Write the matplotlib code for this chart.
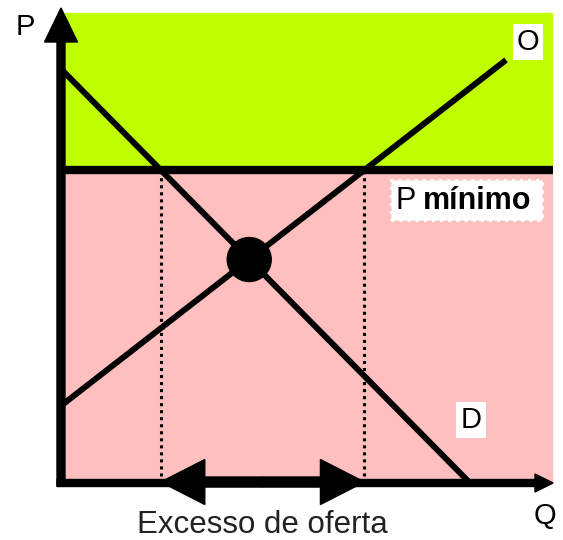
import numpy as np
import matplotlib
matplotlib.use("Agg")
from matplotlib import pyplot as plt
from matplotlib.patches import Rectangle, Circle, FancyArrow

plt.rcParams["font.family"] = ["Liberation Sans", "DejaVu Sans"]

# schematic units (Q along x, P along y)
demand_q = [0, 408]
demand_p = [413, 0]
supply_q = [0, 444]
supply_p = [78, 423]
p_min = 313

# quantities where the floor price meets each curve
q_dem_floor = np.interp(p_min, demand_p[::-1], demand_q[::-1])
q_sup_floor = np.interp(p_min, supply_p, supply_q)

# equilibrium
a_d = np.polyfit(demand_q, demand_p, 1)
a_s = np.polyfit(supply_q, supply_p, 1)
q_eq = (a_s[1] - a_d[1]) / (a_d[0] - a_s[0])
p_eq = np.polyval(a_d, q_eq)

fig = plt.figure(figsize=(5.63, 5.40), dpi=100)
ax = fig.add_axes([0, 0, 1, 1])
ax.set_xlim(-62, 501)
ax.set_ylim(-57, 483)
ax.axis("off")

green = "#bfff00"
pink = "#ffbfbf"

ax.add_patch(Rectangle((3, p_min), 487, 470 - p_min, color=green, zorder=0))
ax.add_patch(Rectangle((3, 0), 487, p_min, color=pink, zorder=0))

# floor price line
ax.plot([0, 491], [p_min, p_min], color="black", lw=6, solid_capstyle="butt", zorder=3)

# dotted guides
for q in [q_dem_floor, q_sup_floor]:
    ax.plot([q, q], [0, p_min], color="black", lw=2.2, ls=(0, (1, 1.3)), zorder=2)

# curves
ax.plot(demand_q, demand_p, color="black", lw=4.3, solid_capstyle="butt", zorder=3)
ax.plot(supply_q, supply_p, color="black", lw=4.3, solid_capstyle="butt", zorder=3)

ax.add_patch(Circle((q_eq, p_eq), 22, color="black", zorder=4))

# axes arrows
ax.add_patch(FancyArrow(-1, -3, 0, 478, width=8, head_width=33, head_length=34,
                        length_includes_head=True, color="black", zorder=5))
ax.add_patch(FancyArrow(-5, 0, 496, 0, width=7, head_width=18, head_length=18,
                        length_includes_head=True, color="black", zorder=5))

# double arrow for the surplus
mid = (q_dem_floor + q_sup_floor) / 2
for end in [q_dem_floor, q_sup_floor]:
    ax.add_patch(FancyArrow(mid, 1, end - mid, 0, width=10, head_width=45, head_length=44,
                            length_includes_head=True, color="black", zorder=6))

ax.text(-37, 456, "P", fontsize=21, ha="center", va="center")
ax.text(483, -33, "Q", fontsize=21, ha="center", va="center")
ax.text(200, -42, "Excesso de oferta", fontsize=22.5, ha="center", va="center", color="#222222")
ax.text(466, 441, "O", fontsize=21, ha="center", va="center",
        bbox=dict(fc="white", ec="none", pad=3))
ax.text(409, 63, "D", fontsize=21, ha="center", va="center",
        bbox=dict(fc="white", ec="none", pad=3))

# label box for the floor price
ax.add_patch(Rectangle((329, 263), 151, 40, fc="white", ec="white", ls=":", lw=2.2, zorder=3))
ax.text(333, 282, "P", fontsize=22, ha="left", va="center", zorder=4)
ax.text(361, 282, "mínimo", fontsize=22, fontweight="bold", ha="left", va="center", zorder=4)

fig.savefig("out.png", dpi=100)
